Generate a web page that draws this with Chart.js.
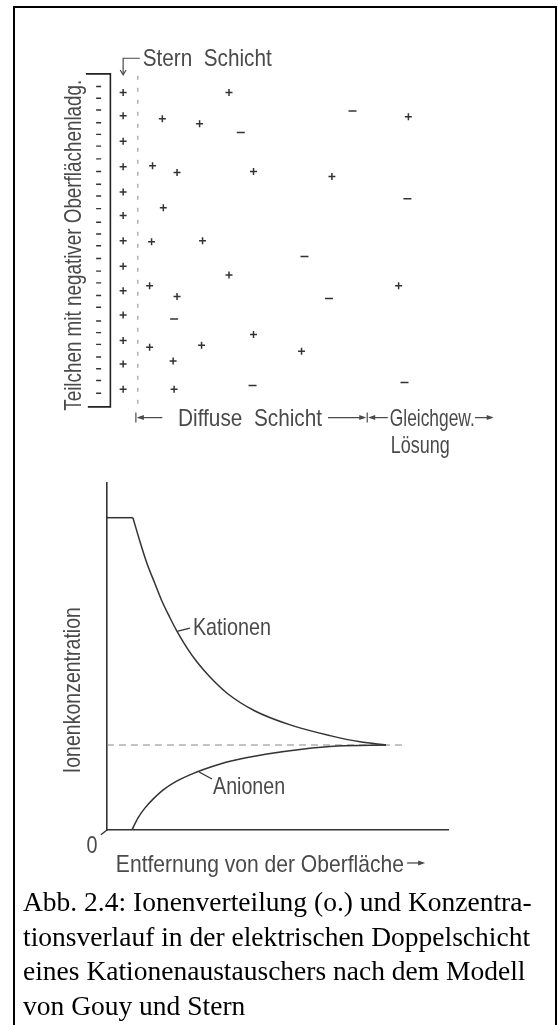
<!DOCTYPE html>
<html>
<head>
<meta charset="utf-8">
<script src="https://cdn.jsdelivr.net/npm/chart.js@4.4.1/dist/chart.umd.min.js"></script>
<style>
  html, body { margin: 0; padding: 0; background: #fff; }
  body { width: 558px; height: 1025px; position: relative; overflow: hidden; }
  #frame { position: absolute; left: 13px; top: 6px; width: 540px; height: 1040px; border: 2px solid #000; border-bottom: none; }
  .box { position: absolute; left: 0; width: 558px; }
  #caption { position: absolute; left: 23px; top: 885px; font-family: 'Liberation Serif', 'Times New Roman', serif; font-size: 27.5px; line-height: 34.5px; color: #000; white-space: nowrap; }
</style>
</head>
<body>
<div id="frame"></div>
<div class="box" style="top:0;height:470px"><canvas id="ionChart" width="558" height="470"></canvas></div>
<div class="box" style="top:470px;height:420px"><canvas id="concChart" width="558" height="420"></canvas></div>
<div id="caption">Abb. 2.4: Ionenverteilung (o.) und Konzentra-<br>tionsverlauf in der elektrischen Doppelschicht<br>eines Kationenaustauschers nach dem Modell<br>von Gouy und Stern</div>

<script>
// --- oberes Bild: Ionenverteilung (x = Abstand von der Oberflaeche, y = Hoehe) ---
var surfaceX = -12;   // negative Oberflaechenladungen
var surfaceY = [328, 316, 304, 291, 279, 267, 254, 241, 228, 216, 203, 189, 177,
                165, 152, 139, 127, 114, 102, 88, 76, 64, 51, 39, 27, 14];
var sternX = 13;      // Kationen in der Stern-Schicht
var sternY = [322, 298, 272, 246, 220, 196, 170, 144, 119, 94, 68, 44, 18];
var cationX = [53, 91, 43, 68, 54, 42, 94, 40, 68, 40, 93, 64, 65, 121, 146, 226, 121, 146, 195, 304, 294];
var cationY = [295, 290, 247, 240, 204, 169, 170, 124, 113, 61, 63, 47, 18, 322, 241, 236, 135, 74, 57, 297, 124];
var anionX = [65, 133, 247, 198, 223, 145, 303, 300];
var anionY = [90, 281, 303, 154, 111, 22, 213, 25];
var bracketX = [-25, 0, 0, -23];
var bracketY = [341, 341, 0, 0];
var sternLineX = [28, 28];
var sternLineY = [339, -1];

// --- unteres Bild: Ionenkonzentration ueber Entfernung ---
var plateauX = [0, 7.6];
var plateauY = [90, 90];
var kationX = [7.6, 9.7, 11.7, 14.1, 16.1, 18.5, 20.5, 23.5, 26.4, 30.2, 35.5, 43.4, 53.7, 65.4, 74.2, 81.8];
var kationY = [90, 83.0, 76.9, 70.9, 66.0, 61.1, 57.3, 52.4, 48.4, 44.1, 39.2, 34.3, 30.3, 27.2, 25.4, 24.5];
var anionenX = [7.3, 9.1, 11.1, 13.5, 16.4, 19.9, 24.3, 28.7, 36.4, 46.9, 57.2, 67.7, 81.8];
var anionenY = [0, 3.5, 6.3, 8.9, 11.5, 13.8, 15.9, 17.6, 19.9, 21.9, 23.3, 24.2, 24.5];
var gleichX = [0, 86.5];
var gleichY = [24.5, 24.5];

var ink = '#333';
var textInk = '#4a4a4a';
var labelFont = '24px "Liberation Sans", Arial, sans-serif';

function pts(xs, ys) {
    return xs.map(function(x, i) { return {x: x, y: ys[i]}; });
}
function column(x, ys) {
    return ys.map(function(y) { return {x: x, y: y}; });
}

// Text auf Zielbreite stauchen (schmale Normschrift)
function squeeze(ctx, text, x, y, w, rot) {
    ctx.save();
    ctx.translate(x, y);
    if (rot) ctx.rotate(rot);
    var m = ctx.measureText(text).width;
    ctx.scale(w / m, 1);
    ctx.fillText(text, 0, 0);
    ctx.restore();
}
function head(ctx, x, y, dir) {
    ctx.beginPath();
    ctx.moveTo(x, y);
    ctx.lineTo(x - dir * 7, y - 2.5);
    ctx.lineTo(x - dir * 7, y + 2.5);
    ctx.closePath();
    ctx.fill();
}
function seg(ctx, x1, y1, x2, y2) {
    ctx.beginPath();
    ctx.moveTo(x1, y1);
    ctx.lineTo(x2, y2);
    ctx.stroke();
}

var ionLabels = {
    id: 'ionLabels',
    afterDraw: function(chart) {
        var ctx = chart.ctx, xs = chart.scales.x, ys = chart.scales.y;
        var X = function(v) { return xs.getPixelForValue(v); };
        var Y = function(v) { return ys.getPixelForValue(v); };
        ctx.save();
        ctx.font = labelFont;
        ctx.fillStyle = textInk;
        ctx.strokeStyle = textInk;
        ctx.lineWidth = 1.2;
        ctx.textAlign = 'left';
        ctx.textBaseline = 'alphabetic';

        squeeze(ctx, 'Stern  Schicht', X(33), Y(349), 129);
        // Pfeil zur Stern-Schicht
        ctx.beginPath();
        ctx.moveTo(X(30), Y(357));
        ctx.lineTo(X(13), Y(357));
        ctx.lineTo(X(13), Y(340));
        ctx.stroke();
        ctx.beginPath();
        ctx.moveTo(X(10), Y(345));
        ctx.lineTo(X(13), Y(340));
        ctx.lineTo(X(16), Y(345));
        ctx.stroke();

        // Diffuse Schicht / Gleichgew. Loesung
        var yb = Y(-11);
        seg(ctx, X(26), yb - 5, X(26), yb + 5);
        seg(ctx, X(28), yb, X(53), yb);
        head(ctx, X(27), yb, -1);
        squeeze(ctx, 'Diffuse  Schicht', X(69), Y(-20), 144);
        seg(ctx, X(222), yb, X(259), yb);
        head(ctx, X(261), yb, 1);
        seg(ctx, X(262), yb - 5, X(262), yb + 5);
        seg(ctx, X(266), yb, X(283), yb);
        head(ctx, X(263), yb, -1);
        squeeze(ctx, 'Gleichgew.', X(285), Y(-20), 85);
        seg(ctx, X(372), yb, X(389), yb);
        head(ctx, X(391), yb, 1);
        squeeze(ctx, 'Lösung', X(286), Y(-47), 59);

        ctx.textAlign = 'center';
        squeeze(ctx, 'Teilchen mit negativer Oberflächenladg.', X(-30), Y(165.5), 331, -Math.PI / 2);
        ctx.restore();
    }
};

var concLabels = {
    id: 'concLabels',
    afterDraw: function(chart) {
        var ctx = chart.ctx, xs = chart.scales.x, ys = chart.scales.y;
        var X = function(v) { return xs.getPixelForValue(v); };
        var Y = function(v) { return ys.getPixelForValue(v); };
        ctx.save();
        ctx.font = labelFont;
        ctx.fillStyle = textInk;
        ctx.strokeStyle = ink;
        ctx.lineWidth = 1.3;
        ctx.textAlign = 'left';
        ctx.textBaseline = 'alphabetic';

        seg(ctx, X(20.8), Y(57.3), X(24.3), Y(58.2));
        squeeze(ctx, 'Kationen', X(25.2), Y(56.1), 78);
        seg(ctx, X(27.0), Y(16.7), X(30.8), Y(14.7));
        squeeze(ctx, 'Anionen', X(31.1), Y(10.5), 72);

        seg(ctx, X(0), Y(0), X(-1.8), Y(-1.4));
        ctx.textAlign = 'center';
        squeeze(ctx, '0', X(-4.4), Y(-6.6), 11);
        ctx.textAlign = 'left';
        squeeze(ctx, 'Entfernung von der Oberfläche', X(2.6), Y(-12.1), 288);
        ctx.strokeStyle = textInk;
        var ya = Y(-9.5);
        seg(ctx, X(88), ya, X(91.5), ya);
        head(ctx, X(93.3), ya, 1);

        ctx.textAlign = 'center';
        squeeze(ctx, 'Ionenkonzentration', X(-7.9), Y(40.3), 166, -Math.PI / 2);
        ctx.restore();
    }
};

new Chart(document.getElementById('ionChart').getContext('2d'), {
    type: 'scatter',
    data: {
        datasets: [
            { data: column(surfaceX, surfaceY), pointStyle: 'line', pointRadius: 2.5, borderColor: ink, pointBorderWidth: 1.4 },
            { data: column(sternX, sternY), pointStyle: 'cross', pointRadius: 3.5, borderColor: ink, pointBorderWidth: 1.5 },
            { data: pts(cationX, cationY), pointStyle: 'cross', pointRadius: 3.5, borderColor: ink, pointBorderWidth: 1.5 },
            { data: pts(anionX, anionY), pointStyle: 'line', pointRadius: 4, borderColor: ink, pointBorderWidth: 1.5 },
            { type: 'line', data: pts(bracketX, bracketY), borderColor: '#222', borderWidth: 1.6, pointRadius: 0, fill: false },
            { type: 'line', data: pts(sternLineX, sternLineY), borderColor: '#888', borderWidth: 1, borderDash: [4, 8], pointRadius: 0, fill: false }
        ]
    },
    options: {
        responsive: false,
        animation: false,
        layout: { padding: 0 },
        plugins: { legend: { display: false }, tooltip: { enabled: false } },
        scales: {
            x: { type: 'linear', display: false, min: -107, max: 451 },
            y: { type: 'linear', display: false, min: -59, max: 411 }
        }
    },
    plugins: [ionLabels]
});

var axisStyle = {
    type: 'linear',
    grid: { display: false, drawTicks: false },
    ticks: { display: false },
    border: { display: true, color: ink, width: 1.6 }
};

new Chart(document.getElementById('concChart').getContext('2d'), {
    type: 'scatter',
    data: {
        datasets: [
            { type: 'line', label: 'Kationen', data: pts(plateauX, plateauY), borderColor: ink, borderWidth: 1.5, pointRadius: 0 },
            { type: 'line', label: 'Kationen', data: pts(kationX, kationY), borderColor: ink, borderWidth: 1.5, pointRadius: 0, cubicInterpolationMode: 'monotone' },
            { type: 'line', label: 'Anionen', data: pts(anionenX, anionenY), borderColor: ink, borderWidth: 1.5, pointRadius: 0, cubicInterpolationMode: 'monotone' },
            { type: 'line', label: 'Gleichgewicht', data: pts(gleichX, gleichY), borderColor: '#888', borderWidth: 1.2, borderDash: [7, 5], pointRadius: 0 }
        ]
    },
    options: {
        responsive: false,
        animation: false,
        layout: { padding: { left: 107, right: 110, top: 13, bottom: 60 } },
        plugins: { legend: { display: false }, tooltip: { enabled: false } },
        scales: {
            x: Object.assign({}, axisStyle, { min: 0, max: 100 }),
            y: Object.assign({}, axisStyle, { min: 0, max: 100 })
        }
    },
    plugins: [concLabels]
});
</script>
</body>
</html>
